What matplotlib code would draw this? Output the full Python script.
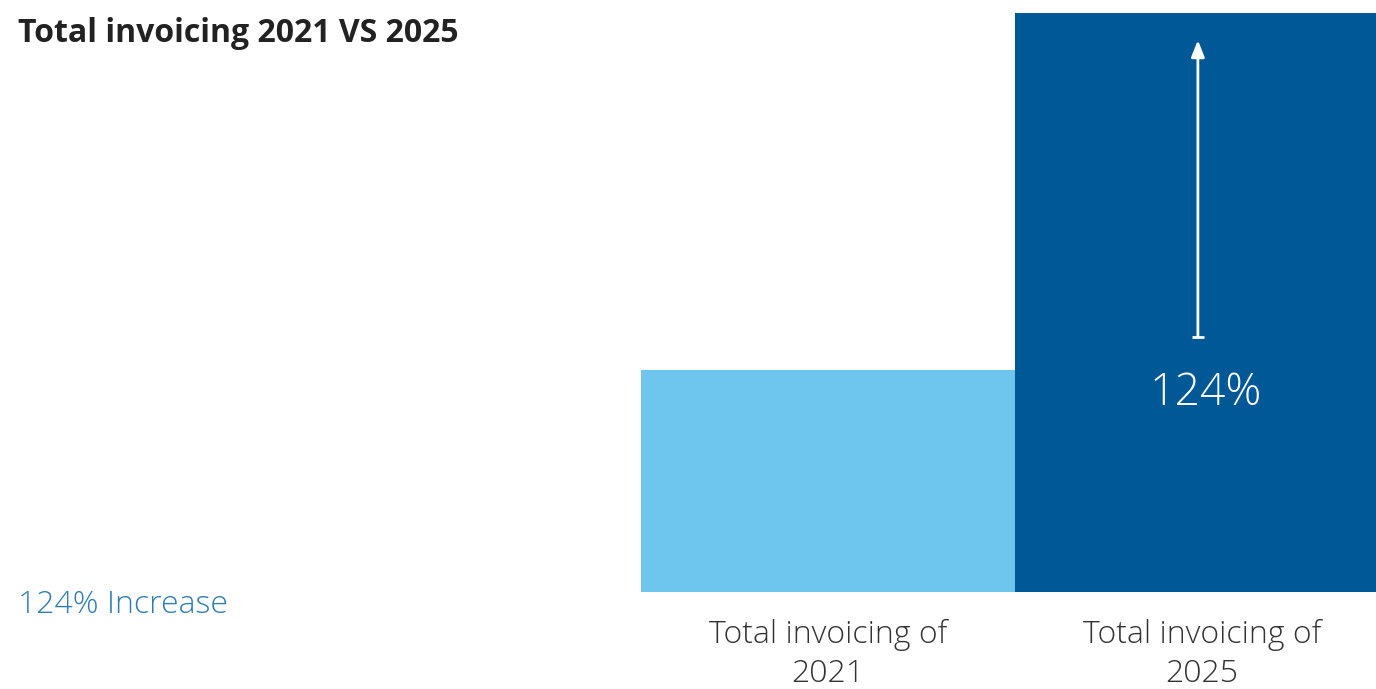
import matplotlib.pyplot as plt

# data (relative bar heights)
categories = ['Total invoicing of\n2021', 'Total invoicing of\n2025']
values = [38.3, 100.0]
colors = ['#6ec6ef', '#005897']
increase_label = '124%'

plt.rcParams['font.family'] = ['Open Sans', 'DejaVu Sans']

fig = plt.figure(figsize=(13.76, 6.89), dpi=100)
W, H = 1376, 689
# second bar runs off the right edge of the figure
left, right, bottom, top = 641, 1389, 591.5, 13
ax = fig.add_axes([left / W, (H - bottom) / H, (right - left) / W, (bottom - top) / H])

x = range(len(categories))
ax.bar(x, values, width=1.0, color=colors)
ax.set_xlim(-0.5, 1.5)
ax.set_ylim(0, max(values))
ax.axis('off')

# category labels below bars
for i, lab in enumerate(categories):
    ax.text(i, -4.7, lab, ha='center', va='top', fontsize=23, fontweight='light',
            color='#333333', linespacing=1.32)

# arrow inside the 2025 bar
y0, y1 = 44.0, 95.3
ax.annotate('', xy=(0.989, y1), xytext=(0.989, y0),
            arrowprops=dict(arrowstyle='-|>,head_length=1.0,head_width=0.4',
                            color='white', lw=2, shrinkA=0, shrinkB=0))
ax.plot([0.973, 1.005], [y0, y0], color='white', lw=2, solid_capstyle='butt')
ax.text(1.011, 34.1, increase_label, ha='center', va='center', fontsize=32,
        fontweight='light', color='white')

fig.text(18 / W, 1 - 33 / H, 'Total invoicing 2021 VS 2025', ha='left', va='center',
         fontsize=23, fontweight='bold', color='#222222')
fig.text(18 / W, 1 - 605 / H, increase_label + ' Increase', ha='left', va='center',
         fontsize=23, fontweight='light', color='#2f7db1')

fig.savefig('out.png', dpi=100)
